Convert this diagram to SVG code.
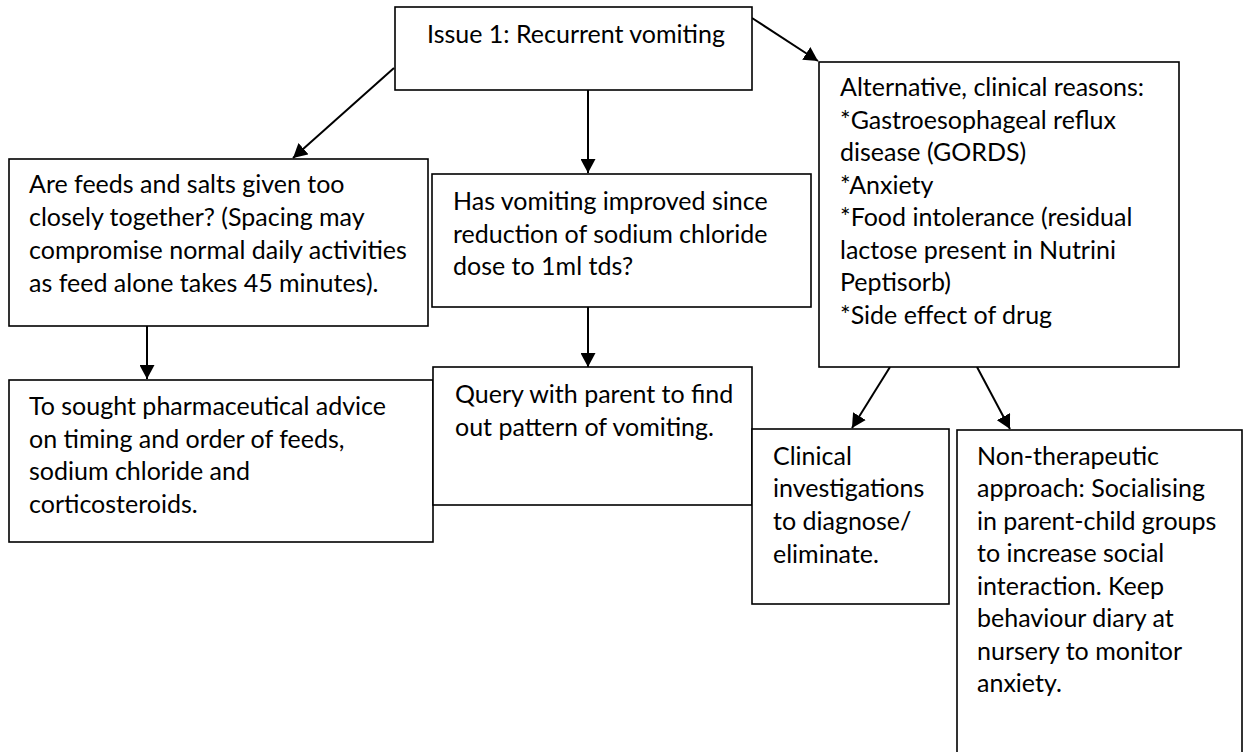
<svg xmlns="http://www.w3.org/2000/svg" width="1251" height="752" viewBox="0 0 1251 752">
<style>
.box{fill:#fff;stroke:#000;stroke-width:1.6}
.t{font-family:Lato,"Open Sans","Liberation Sans",sans-serif;font-size:25px;fill:#000}
.c{stroke:#000;stroke-width:2;fill:none;marker-end:url(#ah)}
</style>
<defs>
<marker id="ah" markerUnits="userSpaceOnUse" markerWidth="15" markerHeight="15" refX="14" refY="7.5" orient="auto">
<path d="M0,0 L14,7.5 L0,15 z" fill="#000"/>
</marker>
</defs>
<rect width="1251" height="752" fill="#fff"/>
<g id="connectors">
<line class="c" x1="394" y1="68" x2="293" y2="158"/>
<line class="c" x1="588" y1="90" x2="588" y2="173"/>
<line class="c" x1="752" y1="18" x2="818" y2="61"/>
<line class="c" x1="147" y1="326" x2="147" y2="379"/>
<line class="c" x1="588" y1="307" x2="588" y2="367"/>
<line class="c" x1="890" y1="367" x2="852" y2="428"/>
<line class="c" x1="977" y1="367" x2="1010" y2="429"/>
</g>
<g id="n1">
<rect class="box" x="395" y="7" width="357" height="83"/>
<text class="t" x="427" y="43">Issue 1: Recurrent vomiting</text>
</g>
<g id="n2">
<rect class="box" x="9" y="159" width="419" height="167"/>
<text class="t" x="29" y="193">Are feeds and salts given too</text>
<text class="t" x="29" y="226">closely together? (Spacing may</text>
<text class="t" x="29" y="259">compromise normal daily activities</text>
<text class="t" x="29" y="292">as feed alone takes 45 minutes).</text>
</g>
<g id="n3">
<rect class="box" x="432" y="174" width="379" height="133"/>
<text class="t" x="453" y="210">Has vomiting improved since</text>
<text class="t" x="453" y="243">reduction of sodium chloride</text>
<text class="t" x="453" y="275">dose to 1ml tds?</text>
</g>
<g id="n4">
<rect class="box" x="819" y="62" width="360" height="305"/>
<text class="t" x="840" y="96">Alternative, clinical reasons:</text>
<text class="t" x="840" y="128.5">*Gastroesophageal reflux</text>
<text class="t" x="840" y="161">disease (GORDS)</text>
<text class="t" x="840" y="193.5">*Anxiety</text>
<text class="t" x="840" y="226">*Food intolerance (residual</text>
<text class="t" x="840" y="258.5">lactose present in Nutrini</text>
<text class="t" x="840" y="291">Peptisorb)</text>
<text class="t" x="840" y="323.5">*Side effect of drug</text>
</g>
<g id="n5">
<rect class="box" x="9" y="380" width="424" height="162"/>
<text class="t" x="29" y="415">To sought pharmaceutical advice</text>
<text class="t" x="29" y="448">on timing and order of feeds,</text>
<text class="t" x="29" y="480">sodium chloride and</text>
<text class="t" x="29" y="513">corticosteroids.</text>
</g>
<g id="n6">
<rect class="box" x="433" y="367" width="319" height="138"/>
<text class="t" x="455" y="403">Query with parent to find</text>
<text class="t" x="455" y="436">out pattern of vomiting.</text>
</g>
<g id="n7">
<rect class="box" x="752" y="429" width="197" height="175"/>
<text class="t" x="773" y="465">Clinical</text>
<text class="t" x="773" y="497">investigations</text>
<text class="t" x="773" y="530">to diagnose/</text>
<text class="t" x="773" y="563">eliminate.</text>
</g>
<g id="n8">
<rect class="box" x="957" y="430" width="285" height="340"/>
<text class="t" x="977" y="465">Non-therapeutic</text>
<text class="t" x="977" y="497">approach: Socialising</text>
<text class="t" x="977" y="530">in parent-child groups</text>
<text class="t" x="977" y="562">to increase social</text>
<text class="t" x="977" y="595">interaction. Keep</text>
<text class="t" x="977" y="627">behaviour diary at</text>
<text class="t" x="977" y="660">nursery to monitor</text>
<text class="t" x="977" y="692">anxiety.</text>
</g>
</svg>
